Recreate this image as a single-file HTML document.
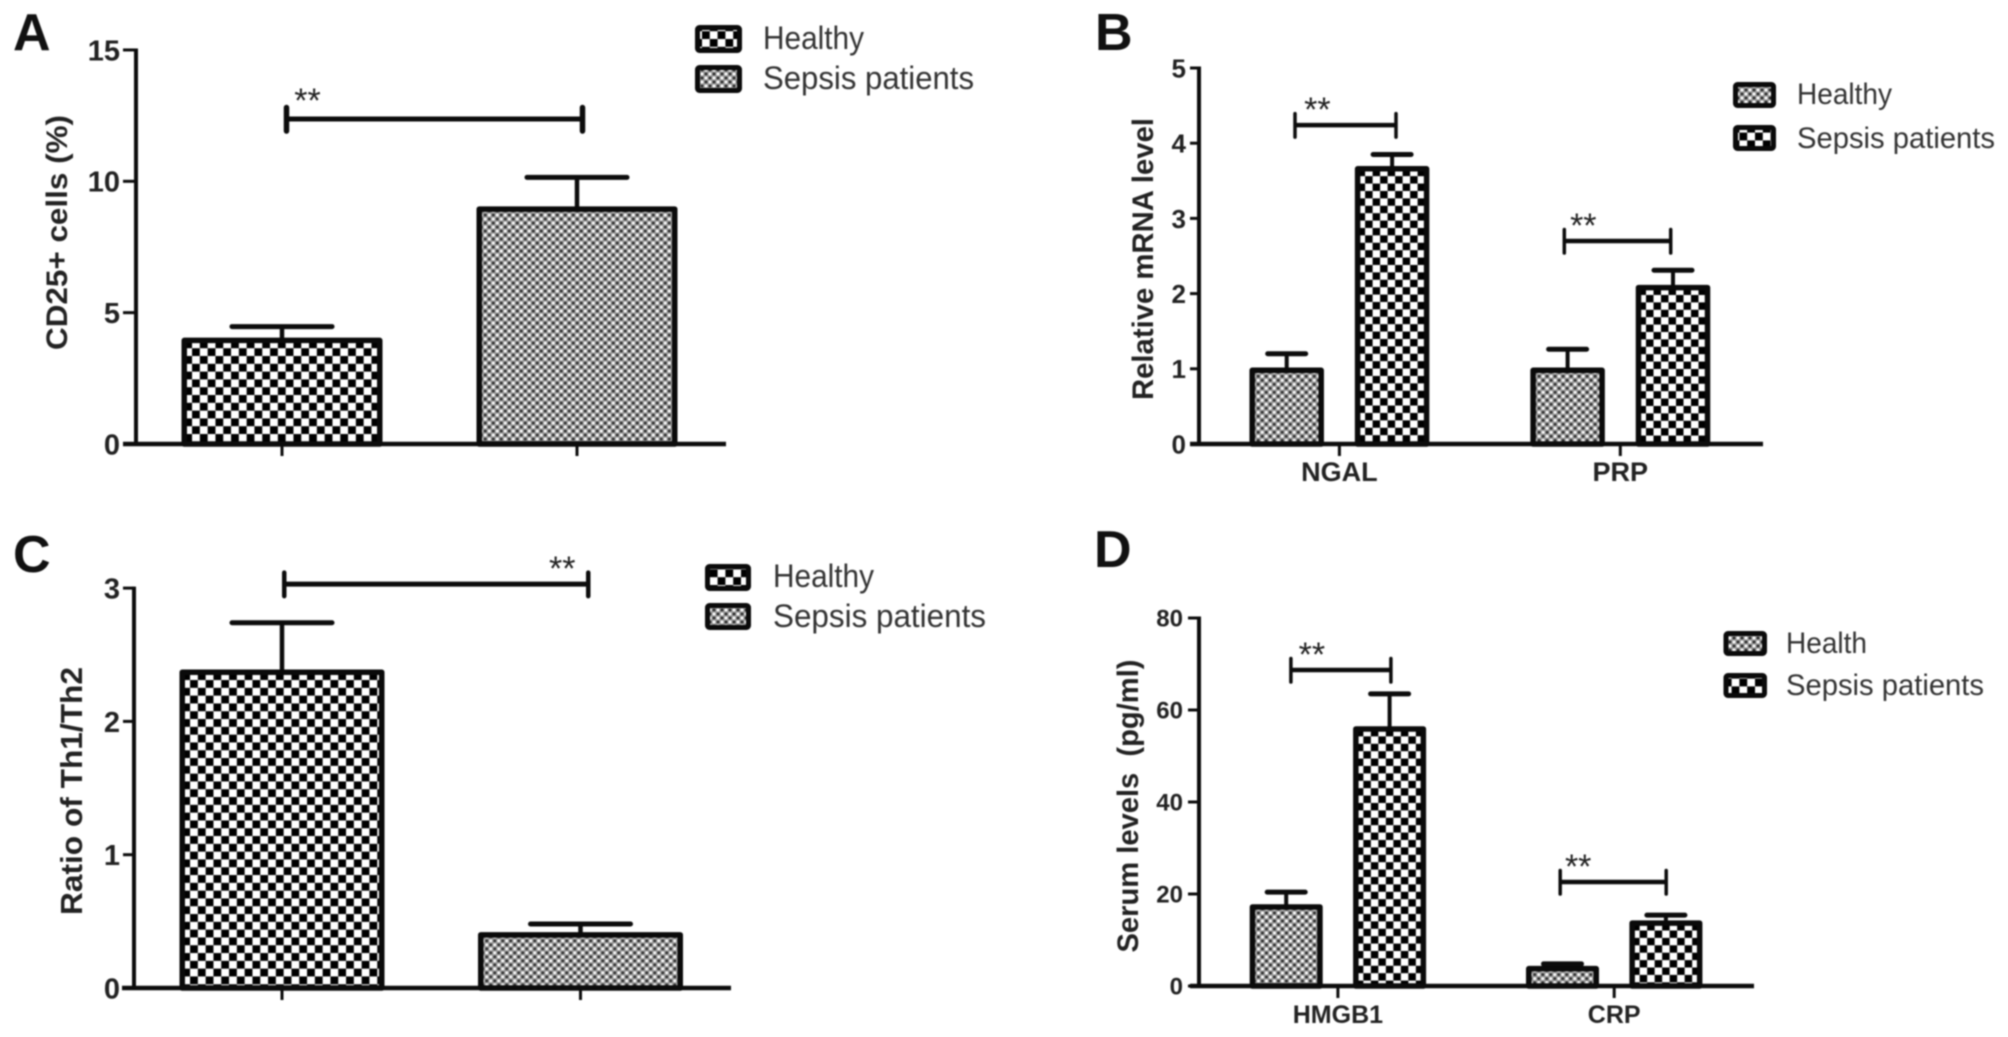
<!DOCTYPE html>
<html lang="en">
<head>
<meta charset="utf-8">
<title>Sepsis patients versus healthy controls</title>
<style>
html,body{margin:0;padding:0;background:#fff;}
#figure{display:block;width:2008px;height:1037px;filter:blur(0.7px);font-family:"Liberation Sans",Arial,sans-serif;}
.letter{font-size:52px;font-weight:bold;fill:#111;}
.ytitle{font-weight:bold;fill:#222;}
.legend-text{fill:#333;}
.legend-box{stroke:#0a0a0a;stroke-width:5;stroke-linejoin:round;}
</style>
</head>
<body>
<svg id="figure" xmlns="http://www.w3.org/2000/svg" width="2008" height="1037" viewBox="0 0 2008 1037">
  <defs>
    <pattern id="coarse" patternUnits="userSpaceOnUse" width="15.6" height="15.6">
      <rect width="15.6" height="15.6" fill="#fff"/>
      <rect x="0" y="0" width="7.8" height="7.8" fill="#000"/>
      <rect x="7.8" y="7.8" width="7.8" height="7.8" fill="#000"/>
    </pattern>
    <pattern id="coarse-narrow" patternUnits="userSpaceOnUse" width="15" height="14.8">
      <rect width="15" height="14.8" fill="#fff"/>
      <rect x="0" y="0" width="7.5" height="7.4" fill="#000"/>
      <rect x="7.5" y="7.4" width="7.5" height="7.4" fill="#000"/>
    </pattern>
    <pattern id="fine" patternUnits="userSpaceOnUse" width="8" height="8">
      <rect width="8" height="8" fill="#989898"/>
      <circle cx="2" cy="2" r="1.4" fill="#262626"/>
      <circle cx="6" cy="6" r="1.4" fill="#262626"/>
      <circle cx="6" cy="2" r="1.5" fill="#ffffff"/>
      <circle cx="2" cy="6" r="1.5" fill="#ffffff"/>
    </pattern>
  </defs>

  <g id="panel-a">
    <text class="letter" x="13" y="50">A</text>
    <text class="ytitle" font-size="30" text-anchor="middle" textLength="235" lengthAdjust="spacingAndGlyphs" transform="translate(67 232.5) rotate(-90)">CD25+ cells (%)</text>
    <g>
      <rect class="legend-box" x="697.5" y="27.5" width="42" height="23" rx="2" fill="url(#coarse)"/>
      <text class="legend-text" x="763" y="49" font-size="32" textLength="101" lengthAdjust="spacingAndGlyphs">Healthy</text>
      <rect class="legend-box" x="697.5" y="67.5" width="42" height="23" rx="2" fill="url(#fine)"/>
      <text class="legend-text" x="763" y="89" font-size="32" textLength="211" lengthAdjust="spacingAndGlyphs">Sepsis patients</text>
    </g>
  </g>

  <g id="panel-b">
    <text class="letter" x="1095" y="50">B</text>
    <text class="ytitle" font-size="30" text-anchor="middle" textLength="282" lengthAdjust="spacingAndGlyphs" transform="translate(1153 259) rotate(-90)">Relative mRNA level</text>
    <g>
      <rect class="legend-box" x="1735.5" y="84.5" width="38" height="21" rx="2" fill="url(#fine)"/>
      <text class="legend-text" x="1797" y="104" font-size="30" textLength="95" lengthAdjust="spacingAndGlyphs">Healthy</text>
      <rect class="legend-box" x="1735.5" y="127.5" width="38" height="21" rx="2" fill="url(#coarse)"/>
      <text class="legend-text" x="1797" y="148" font-size="30" textLength="198" lengthAdjust="spacingAndGlyphs">Sepsis patients</text>
    </g>
  </g>

  <g id="panel-c">
    <text class="letter" x="13" y="572">C</text>
    <text class="ytitle" font-size="31" text-anchor="middle" textLength="248" lengthAdjust="spacingAndGlyphs" transform="translate(82 791) rotate(-90)">Ratio of Th1/Th2</text>
    <g>
      <rect class="legend-box" x="707.5" y="566.5" width="41" height="22" rx="2" fill="url(#coarse)"/>
      <text class="legend-text" x="773" y="587" font-size="32" textLength="101" lengthAdjust="spacingAndGlyphs">Healthy</text>
      <rect class="legend-box" x="707.5" y="605.5" width="41" height="22" rx="2" fill="url(#fine)"/>
      <text class="legend-text" x="773" y="627" font-size="32" textLength="213" lengthAdjust="spacingAndGlyphs">Sepsis patients</text>
    </g>
  </g>

  <g id="panel-d">
    <text class="letter" x="1094" y="567">D</text>
    <text class="ytitle" font-size="30" text-anchor="middle" textLength="293" lengthAdjust="spacingAndGlyphs" transform="translate(1138 806) rotate(-90)">Serum levels &#160;(pg/ml)</text>
    <g>
      <rect class="legend-box" x="1726" y="633.5" width="38.5" height="20" rx="2" fill="url(#fine)"/>
      <text class="legend-text" x="1786" y="653" font-size="30" textLength="81" lengthAdjust="spacingAndGlyphs">Health</text>
      <rect class="legend-box" x="1726" y="675.5" width="38.5" height="20" rx="2" fill="url(#coarse)"/>
      <text class="legend-text" x="1786" y="695" font-size="30" textLength="198" lengthAdjust="spacingAndGlyphs">Sepsis patients</text>
    </g>
  </g>
</svg>

<script>
// ---- Chart data ----
const panelATicks = [0, 5, 10, 15];
const panelALabels = [''];
const panelAHealthy = [4.0];
const panelASepsis = [9.0];
const panelAHealthyErr = [0.47];
const panelASepsisErr = [1.15];
const panelASigLevels = [12.37];

const panelBTicks = [0, 1, 2, 3, 4, 5];
const panelBLabels = ['NGAL', 'PRP'];
const panelBHealthy = [1.0, 1.0];
const panelBSepsis = [3.68, 2.1];
const panelBHealthyErr = [0.2, 0.26];
const panelBSepsisErr = [0.17, 0.21];
const panelBSigLevels = [4.24, 2.7];

const panelCTicks = [0, 1, 2, 3];
const panelCLabels = [''];
const panelCHealthy = [2.38];
const panelCSepsis = [0.41];
const panelCHealthyErr = [0.36];
const panelCSepsisErr = [0.07];
const panelCSigLevels = [3.03];

const panelDTicks = [0, 20, 40, 60, 80];
const panelDLabels = ['HMGB1', 'CRP'];
const panelDHealthy = [17.5, 4.1];
const panelDSepsis = [56.2, 14];
const panelDHealthyErr = [2.9, 0.7];
const panelDSepsisErr = [7.3, 1.4];
const panelDSigLevels = [68.7, 22.6];

// ---- Panel geometry ----
const panels = [
  {id:'a', ticks:panelATicks, labels:panelALabels, healthy:panelAHealthy, sepsis:panelASepsis, healthyErr:panelAHealthyErr, sepsisErr:panelASepsisErr, sig:panelASigLevels,
   yBase:444, unit:26.27, axisX:136, left:123, right:726, groupX:429.5, groupStep:0, offset:147.5, barW:201, capW:50, capT:5, stemT:4.5, tickFont:29, tickGap:16, tickLen:13,
   tickPerBar:true, patHealthy:'coarse', patSepsis:'fine', brackets:[[-143,153,-122,-7]], brackH:5, brackV:5.5, catFont:26},
  {id:'b', ticks:panelBTicks, labels:panelBLabels, healthy:panelBHealthy, sepsis:panelBSepsis, healthyErr:panelBHealthyErr, sepsisErr:panelBSepsisErr, sig:panelBSigLevels,
   yBase:444, unit:75.2, axisX:1199, left:1190, right:1763, groupX:1339.4, groupStep:280.9, offset:52.7, barW:74.5, capW:19, capT:5, stemT:4, tickFont:26, tickGap:13, tickLen:9,
   tickPerBar:false, patHealthy:'fine', patSepsis:'coarse-narrow', brackets:[[-44.4,56.6,-22,-4],[-56,50.4,-37,-4]], brackH:4.5, brackV:3.5, catFont:27, catY:481},
  {id:'c', ticks:panelCTicks, labels:panelCLabels, healthy:panelCHealthy, sepsis:panelCSepsis, healthyErr:panelCHealthyErr, sepsisErr:panelCSepsisErr, sig:panelCSigLevels,
   yBase:988, unit:133.3, axisX:134, left:122, right:731, groupX:431.25, groupStep:0, offset:149.25, barW:205, capW:50, capT:5, stemT:4.5, tickFont:29, tickGap:14, tickLen:11,
   tickPerBar:true, patHealthy:'coarse', patSepsis:'fine', brackets:[[-147,157,131,-4]], brackH:5, brackV:4.5, catFont:26},
  {id:'d', ticks:panelDTicks, labels:panelDLabels, healthy:panelDHealthy, sepsis:panelDSepsis, healthyErr:panelDHealthyErr, sepsisErr:panelDSepsisErr, sig:panelDSigLevels,
   yBase:986, unit:4.6, axisX:1199, left:1190, right:1754, groupX:1337.9, groupStep:276.3, offset:51.7, barW:73, capW:19, capT:5, stemT:4, tickFont:24, tickGap:16, tickLen:11,
   tickPerBar:false, patHealthy:'fine', patSepsis:'coarse-narrow', brackets:[[-47,53,-26,-4],[-54,52,-36,-4]], brackH:4.5, brackV:3.5, catFont:25, catY:1023}
];

const NS = 'http://www.w3.org/2000/svg';
function mk(parent, tag, attrs, text) {
  const el = document.createElementNS(NS, tag);
  Object.keys(attrs).forEach(function (k) { el.setAttribute(k, attrs[k]); });
  if (text !== undefined) el.textContent = text;
  parent.appendChild(el);
  return el;
}
function seg(parent, x1, y1, x2, y2, w, cap) {
  return mk(parent, 'line', {x1:x1, y1:y1, x2:x2, y2:y2, stroke:'#0c0c0c', 'stroke-width':w, 'stroke-linecap':cap || 'butt'});
}

function drawPanel(p) {
  const root = document.getElementById('panel-' + p.id);
  const yScale = function (v) { return p.yBase - v * p.unit; };
  const groupCenter = function (i) { return p.groupX + i * p.groupStep; };
  const barCenter = function (i, s) { return groupCenter(i) + (s === 0 ? -p.offset : p.offset); };

  // bars and error bars
  [[p.healthy, p.healthyErr, p.patHealthy, 'healthy'], [p.sepsis, p.sepsisErr, p.patSepsis, 'sepsis']].forEach(function (series, s) {
    series[0].forEach(function (value, i) {
      const cx = barCenter(i, s);
      const top = yScale(value);
      const errTop = yScale(value + series[1][i]);

      const err = mk(root, 'g', {});
      
      
      seg(err, cx, top, cx, errTop, p.stemT);
      seg(err, cx - p.capW, errTop, cx + p.capW, errTop, p.capT, 'round');

      const barGroup = mk(root, 'g', {transform:'translate(' + (cx - p.barW / 2 + 2.75) + ' ' + (top + 1.5) + ')'});
      const bar = mk(barGroup, 'rect', {
        x:0, y:0, width:p.barW - 5.5, height:Math.max(p.yBase - top - 1.5, 0),
        fill:'url(#' + series[2] + ')', stroke:'#0a0a0a', 'stroke-width':5.5, 'stroke-linejoin':'round'
      });
      
      
    });
  });

  // y axis
  const yAxis = seg(root, p.axisX, yScale(p.ticks[p.ticks.length - 1]) - 1.5, p.axisX, p.yBase, 4);
  
  
  p.ticks.forEach(function (t) {
    const y = yScale(t);
    const mark = seg(root, p.axisX - p.tickLen, y, p.axisX, y, 3);
    
    
    const label = mk(root, 'text', {x:p.axisX - p.tickGap, y:y + p.tickFont * 0.36, 'text-anchor':'end', 'font-size':p.tickFont, 'font-weight':'bold', fill:'#222'}, String(t));
    
    
  });

  // x axis
  const xAxis = seg(root, p.left, p.yBase, p.right, p.yBase, 4.5);
  
  
  p.labels.forEach(function (name, i) {
    const xs = p.tickPerBar ? [barCenter(i, 0), barCenter(i, 1)] : [groupCenter(i)];
    xs.forEach(function (tx) {
      const mark = seg(root, tx, p.yBase, tx, p.yBase + 12, 3);
      
      
    });
    if (name) {
      const label = mk(root, 'text', {x:groupCenter(i), y:p.catY, 'text-anchor':'middle', 'font-size':p.catFont, 'font-weight':'bold', fill:'#222'}, name);
      
      
    }
  });

  // significance brackets
  p.sig.forEach(function (level, i) {
    const y = yScale(level);
    const x1 = groupCenter(i) + p.brackets[i][0];
    const x2 = groupCenter(i) + p.brackets[i][1];
    const g = mk(root, 'g', {});
    
    
    seg(g, x1, y, x2, y, p.brackH);
    seg(g, x1, y - 11.5, x1, y + 12, p.brackV, 'round');
    seg(g, x2, y - 11.5, x2, y + 12, p.brackV, 'round');
    const star = mk(root, 'text', {x:groupCenter(i) + p.brackets[i][2], y:y + p.brackets[i][3], 'text-anchor':'middle', 'font-size':34, fill:'#222'}, '**');
    
    
  });
}

panels.forEach(drawPanel);
</script>
</body>
</html>
